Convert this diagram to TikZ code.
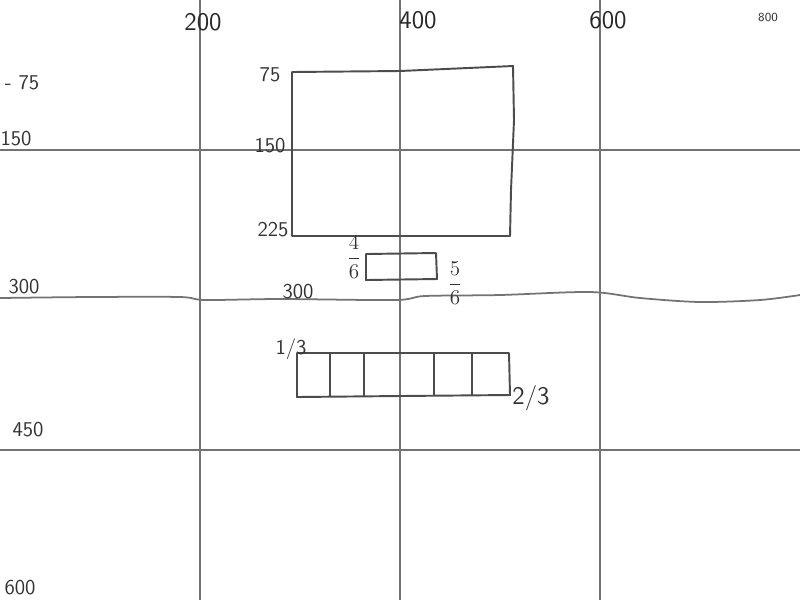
\documentclass[tikz,border=0pt]{standalone}
\usepackage{amsmath}
\usepackage{tikz}
\usetikzlibrary{positioning}

\begin{document}
\begin{tikzpicture}[x=0.02cm,y=-0.02cm,
		gridline/.style={draw=gray!90!black,line width=1pt},
		sketch/.style={draw=black!70,line width=1.1pt,line join=round},
		numlbl/.style={font=\sffamily\large,text=black!80,inner sep=1pt},
		toplbl/.style={font=\sffamily\Large,text=black!85,inner sep=1pt}]
		
		\useasboundingbox (0,0) rectangle (800,600);
		\fill[white] (0,0) rectangle (800,600);
		
		% grid
		\foreach \gx in {200,400,600}
			\draw[gridline] (\gx,0)--(\gx,600);
		\foreach \gy in {150,450}
			\draw[gridline] (0,\gy)--(800,\gy);
		\draw[gridline] plot[smooth] coordinates {(0,298) (90,297) (180,297) (205,300) (280,299) (395,300) (425,296) (500,295) (590,292) (640,298) (700,302) (760,300) (800,295)};
		
		% big box
		\draw[sketch] (292,72)--(400,71)--(513,66)--(514,120)--(511,190)--(510,236)--(292,236)--cycle;
		
		% small box
		\draw[sketch] (366,254)--(436,253)--(437,279)--(366,280)--cycle;
		
		% row of cells
		\draw[sketch] (297,353)--(509,353)--(510,395)--(400,396)--(297,397)--cycle;
		\foreach \cx in {330,364,434,472}
			\draw[sketch] (\cx,353)--(\cx,396);
		
		% top labels
		\node[toplbl] (t200) at (203,22) {200};
		\node[toplbl] (t400) at (418,20) {400};
		\node[toplbl] (t600) at (608,20) {600};
		\node[numlbl,font=\sffamily\scriptsize] (t800) at (768,17) {800};
		
		% left labels
		\node[numlbl] (l75) at (22,83) {- 75};
		\node[numlbl] (l150) at (16,139) {150};
		\node[numlbl] (l300) at (24,287) {300};
		\node[numlbl] (l450) at (28,430) {450};
		\node[numlbl] (l600) at (20,588) {600};
		
		% box labels
		\node[numlbl] (b75) at (270,75) {75};
		\node[numlbl] (b150) at (270,146) {150};
		\node[numlbl] (b225) at (273,230) {225};
		\node[numlbl] (f46) at (354,257) {$\dfrac{4}{6}$};
		\node[numlbl] (f56) at (455,283) {$\dfrac{5}{6}$};
		\node[numlbl] (b300) at (298,292) {300};
		\node[numlbl] (f13) at (291,349) {1/3};
		\node[numlbl,font=\sffamily\Large] (f23) at (531,398) {2/3};
		
	\end{tikzpicture}
\end{document}
